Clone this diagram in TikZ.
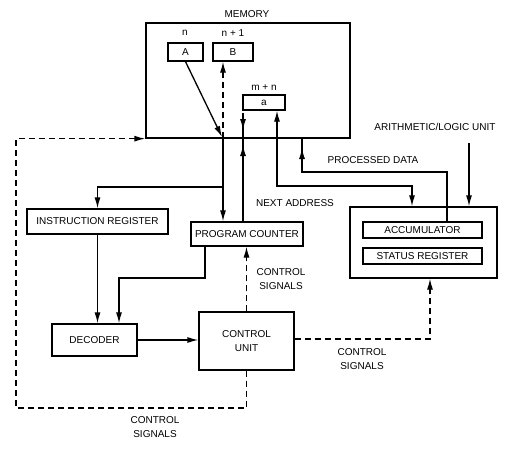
\documentclass[tikz,border=0pt]{standalone}
\usepackage{fontspec}
\setmainfont{Liberation Sans}
\usetikzlibrary{arrows.meta}
\tikzset{
  blk/.style={draw, line width=1.3pt, inner sep=0pt, font=\fontsize{10}{14}\selectfont, align=center},
  lbl/.style={inner sep=0pt, font=\fontsize{10}{14}\selectfont, align=center},
  ctl/.style={dash pattern=on 6pt off 4pt},
}
\begin{document}
\begin{tikzpicture}[x=1pt,y=-1pt,line width=1.3pt,>={Latex[length=11pt,width=6pt]}]
\useasboundingbox (0,0) rectangle (507,448);
% Memory with its words
\node[blk, minimum width=204pt, minimum height=115pt] (mem) at (248,80.5) {};
\node[lbl] (memlbl) at (247,14) {MEMORY};
\node[blk, minimum width=35pt, minimum height=18pt] (A) at (185.5,52) {A};
\node[blk, minimum width=40pt, minimum height=18pt] (B) at (233,52) {B};
\node[blk, minimum width=42pt, minimum height=15pt] (a) at (264,102.5) {a};
\node[lbl] (nlbl) at (185,33) {n};
\node[lbl] (n1lbl) at (233,33) {n + 1};
\node[lbl] (mnlbl) at (264,88) {m + n};

% Registers and units
\node[blk, minimum width=141pt, minimum height=25pt] (IR) at (97.5,221.5) {INSTRUCTION REGISTER};
\node[blk, minimum width=112pt, minimum height=24pt] (PC) at (247,234) {PROGRAM COUNTER};
\node[blk, minimum width=147pt, minimum height=71pt] (alu) at (423.5,242.5) {};
\node[blk, minimum width=119pt, minimum height=16pt] (acc) at (422.5,230) {ACCUMULATOR};
\node[blk, minimum width=119pt, minimum height=16pt] (sr) at (422.5,256) {STATUS REGISTER};
\node[lbl] (alulbl) at (435,127) {ARITHMETIC/LOGIC UNIT};
\node[blk, minimum width=85pt, minimum height=32pt] (dec) at (94.5,340) {DECODER};
\node[blk, minimum width=95pt, minimum height=58pt] (cu) at (246.5,341) {CONTROL\\UNIT};

% Labels
\node[lbl] (nalbl) at (295,203) {NEXT ADDRESS};
\node[lbl] (pdlbl) at (373,160) {PROCESSED DATA};
\node[lbl] (cs1) at (281,279) {CONTROL\\SIGNALS};
\node[lbl] (cs2) at (362,359) {CONTROL\\SIGNALS};
\node[lbl] (cs3) at (155,427) {CONTROL\\SIGNALS};

% Points on the memory edge
\coordinate (fetch) at (223,138);
\coordinate (irb) at (223,187);
\coordinate (adr) at (243,138);
\coordinate (adrin) at (243,113);
\coordinate (acw) at (412,186);
\coordinate (pd) at (302,172);
\coordinate (pdm) at (302,138);
\coordinate (alutop) at (469,143);
\coordinate (j1) at (119,278);
\coordinate (cl) at (16,408);

% Instruction fetch
\draw[->] (A.south) -- ([xshift=-1pt,yshift=1pt]fetch);
\draw[ctl,->] (fetch) -- (fetch |- B.south);
\draw[->] (fetch) -- (fetch |- PC.north);
\draw[->] (irb) -| (IR.north);

% Next address
\draw (PC.north -| adr) -- (adr);
\draw[->] (PC.north -| adr) -- ([yshift=-7pt]adr);
\draw (adrin) -- (adr);
\draw[->] (adrin) -- ([yshift=8pt]adr);

% Operand and processed data
\draw[<->] ([xshift=13pt]a.south) |- (acw) -- (acw |- alu.north);
\draw ([xshift=24.5pt]acc.north) |- (pd) -- (pdm);
\draw[->] (pd) -- ([yshift=-10pt]pdm);
\draw[->] (alutop) -- (alutop |- alu.north);

% Decoding
\draw[->] (IR.south) -- (IR.south |- dec.north);
\draw[->] ([xshift=-42pt]PC.south) |- (j1) -- (j1 |- dec.north);
\draw[->] (dec.east) -- (dec.east -| cu.west);

% Control signals
\draw[ctl,->] (cu.north) -- (cu.north |- PC.south);
\draw[ctl,->] ([yshift=2pt]cu.east) -| ([xshift=6.5pt]alu.south);
\draw[ctl,->] (cu.south) |- (cl) -- (cl |- mem.south west) -- (mem.south west);
\end{tikzpicture}
\end{document}
